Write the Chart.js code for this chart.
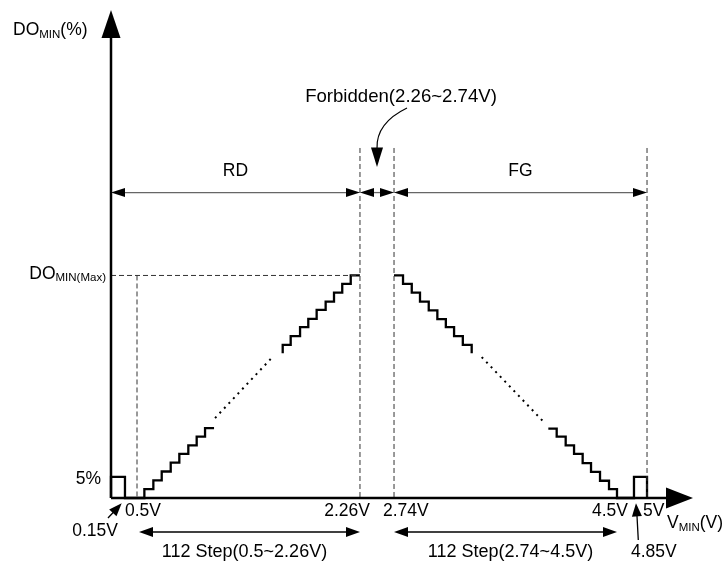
<!DOCTYPE html>
<html>
<head>
<meta charset="utf-8">
<script src="https://cdn.jsdelivr.net/npm/chart.js@4/dist/chart.umd.min.js"></script>
<style>
  html, body { margin: 0; padding: 0; background: #fff; }
  #doChart { display: block; }
</style>
</head>
<body>
<canvas id="doChart" width="724" height="562"></canvas>
<script>
// Minimum duty (DO_MIN) against V_MIN: RD and FG staircases

var doMax = 52.9;   // DO_MIN(Max), in %
var doLow = 5;      // 5% pulse level

// x tick values and labels
var tickVolts = [0.5, 2.26, 2.74, 4.5, 5];
var tickLabels = ['0.5V', '2.26V', '2.74V', '4.5V', '5V'];

// RD side: 0.15V pulse, then the first steps above 0.5V
var rdLowV  = [0, 0, 0.15, 0.558, 0.629, 0.695, 0.766, 0.834, 0.905, 0.971, 1.037, 1.108];
var rdLowDO = [0, doLow, 0, 2.1, 4.2, 6.3, 8.4, 10.5, 12.5, 14.6, 16.6, 16.6];
// RD side: last steps up to 2.26V
var rdHighV  = [1.650, 1.650, 1.713, 1.787, 1.852, 1.918, 1.989, 2.055, 2.120, 2.187, 2.26];
var rdHighDO = [34.4, 36.4, 38.5, 40.6, 42.6, 44.7, 46.7, 48.8, 50.9, doMax, doMax];
var rdDotsV  = [1.116, 1.563];
var rdDotsDO = [19.0, 33.3];

// FG side: first steps down from 2.74V
var fgHighV  = [2.74, 2.811, 2.880, 2.945, 3.014, 3.082, 3.149, 3.214, 3.283, 3.353];
var fgHighDO = [doMax, 50.9, 48.8, 46.7, 44.6, 42.5, 40.6, 38.5, 36.4, 34.4];
// FG side: last steps down to 4.5V, then the 4.85V pulse
var fgLowV  = [3.958, 4.024, 4.095, 4.161, 4.229, 4.295, 4.366, 4.437, 4.5, 4.85, 5];
var fgLowDO = [16.5, 14.6, 12.5, 10.5, 8.3, 6.2, 4.1, 2.1, 0, doLow, 0];
var fgDotsV  = [3.432, 3.924];
var fgDotsDO = [33.5, 18.0];

var FONT = '"Liberation Sans", Arial, sans-serif';

// x axis is drawn piecewise: each volt range gets its own share of the width
var axisVolts = [0, 0.15, 0.5, 2.26, 2.74, 4.5, 4.85, 5, 5.35];
var axisShare = [0, 0.024, 0.0447, 0.4278, 0.4863, 0.8694, 0.8986, 0.921, 1];

class SegmentScale extends Chart.LinearScale {
  getPixelForValue(v) {
    var d = axisShare[axisShare.length - 1];
    if (v <= axisVolts[0]) d = axisShare[0];
    else {
      for (var i = 1; i < axisVolts.length; i++) {
        if (v <= axisVolts[i]) {
          var t = (v - axisVolts[i - 1]) / (axisVolts[i] - axisVolts[i - 1]);
          d = axisShare[i - 1] + t * (axisShare[i] - axisShare[i - 1]);
          break;
        }
      }
    }
    return this.getPixelForDecimal(d);
  }
  getValueForPixel(p) {
    var d = this.getDecimalForPixel(p);
    for (var i = 1; i < axisShare.length; i++) {
      if (d <= axisShare[i]) {
        var t = (d - axisShare[i - 1]) / (axisShare[i] - axisShare[i - 1]);
        return axisVolts[i - 1] + t * (axisVolts[i] - axisVolts[i - 1]);
      }
    }
    return axisVolts[axisVolts.length - 1];
  }
}
SegmentScale.id = 'segment';
SegmentScale.defaults = Chart.LinearScale.defaults;
Chart.register(SegmentScale);

function pts(xs, ys) {
  return xs.map(function (x, i) { return { x: x, y: ys[i] }; });
}

function stairs(xs, ys) {
  return { data: pts(xs, ys), stepped: 'before', borderColor: '#000', borderWidth: 2.3,
           borderJoinStyle: 'miter', clip: false };
}
function dots(xs, ys) {
  return { data: pts(xs, ys), borderColor: '#000', borderWidth: 2, borderDash: [2, 4.6], clip: false };
}
var guideTop = 83.2;
function guide(xs, ys) {
  return { data: pts(xs, ys), borderColor: '#333', borderWidth: 1, borderDash: [5, 3], clip: false };
}

function head(ctx, tx, ty, dx, dy, len, half) {
  var bx = tx - dx * len, by = ty - dy * len;
  ctx.beginPath();
  ctx.moveTo(tx, ty);
  ctx.lineTo(bx - dy * half, by + dx * half);
  ctx.lineTo(bx + dy * half, by - dx * half);
  ctx.closePath();
  ctx.fill();
}

// horizontal span with outward arrowheads at both ends
function span(ctx, x1, x2, y, color, width, len, half) {
  ctx.strokeStyle = color;
  ctx.lineWidth = width;
  ctx.beginPath();
  ctx.moveTo(x1 + len - 1, y);
  ctx.lineTo(x2 - len + 1, y);
  ctx.stroke();
  head(ctx, x1, y, -1, 0, len, half);
  head(ctx, x2, y, 1, 0, len, half);
}

function rich(ctx, parts, x, y, align) {
  var w = 0;
  parts.forEach(function (p) { ctx.font = p[1] + 'px ' + FONT; w += ctx.measureText(p[0]).width; });
  var cx = align === 'right' ? x - w : (align === 'center' ? x - w / 2 : x);
  ctx.textAlign = 'left';
  parts.forEach(function (p) {
    ctx.font = p[1] + 'px ' + FONT;
    ctx.fillText(p[0], cx, y + p[2]);
    cx += ctx.measureText(p[0]).width;
  });
}

var diagram = {
  id: 'diagram',
  afterDatasetsDraw: function (chart) {
    var ctx = chart.ctx, a = chart.chartArea;
    var xs = chart.scales.x, ys = chart.scales.y;
    var px = function (v) { return xs.getPixelForValue(v); };
    var py = function (v) { return ys.getPixelForValue(v); };
    ctx.save();
    ctx.fillStyle = '#000';
    ctx.textBaseline = 'alphabetic';

    // axes with arrowheads
    ctx.strokeStyle = '#000';
    ctx.lineWidth = 2.5;
    ctx.beginPath();
    ctx.moveTo(a.left, a.bottom);
    ctx.lineTo(a.left, a.top + 20);
    ctx.moveTo(a.left, a.bottom);
    ctx.lineTo(a.right - 20, a.bottom);
    ctx.stroke();
    head(ctx, a.left, a.top, 0, -1, 28, 9.5);
    head(ctx, a.right, a.bottom, 1, 0, 27, 10.5);

    // RD / forbidden / FG spans
    var dimY = py(72.6);
    span(ctx, px(0), px(2.26), dimY, '#666', 1.3, 14, 4.5);
    span(ctx, px(2.26), px(2.74), dimY, '#666', 1.3, 14, 4.5);
    span(ctx, px(2.74), px(5), dimY, '#666', 1.3, 14, 4.5);
    ctx.font = '17.5px ' + FONT;
    ctx.textAlign = 'center';
    ctx.fillText('RD', (px(0) + px(2.26)) / 2, dimY - 17);
    ctx.fillText('FG', (px(2.74) + px(5)) / 2, dimY - 17);

    // callout for the forbidden band
    var fx = (px(2.26) + px(2.74)) / 2;
    ctx.strokeStyle = '#000';
    ctx.lineWidth = 1.2;
    ctx.beginPath();
    ctx.moveTo(fx + 30, dimY - 84.5);
    ctx.quadraticCurveTo(fx - 1, dimY - 69.5, fx, dimY - 44);
    ctx.stroke();
    head(ctx, fx, dimY - 25.5, 0, 1, 19.5, 6);
    ctx.font = '18.6px ' + FONT;
    ctx.textAlign = 'center';
    ctx.fillText('Forbidden(2.26~2.74V)', fx + 24, dimY - 91);

    // axis titles
    rich(ctx, [['DO', 17.5, 0], ['MIN', 11.5, 2.5], ['(%)', 17.5, 0]], 13, 35, 'left');
    rich(ctx, [['V', 17.5, 0], ['MIN', 11.5, 2.5], ['(V)', 17.5, 0]], a.right - 26, a.bottom + 30, 'left');

    // y labels
    rich(ctx, [['DO', 17.5, 0], ['MIN(Max)', 11.5, 2.5]], a.left - 5, py(doMax) + 3.5, 'right');
    ctx.font = '17.5px ' + FONT;
    ctx.textAlign = 'right';
    ctx.fillText(doLow + '%', a.left - 10, py(doLow) + 7.3);

    // x labels
    var tickAlign = ['left', 'right', 'left', 'right', 'left'];
    var tickShift = [-12, 10, -11, 11, -4];
    tickVolts.forEach(function (v, i) {
      ctx.textAlign = tickAlign[i];
      ctx.fillText(tickLabels[i], px(v) + tickShift[i], a.bottom + 18);
    });

    // 0.15V and 4.85V pointers
    var p1 = px(0.15), p2 = px(4.85);
    ctx.lineWidth = 1.3;
    ctx.beginPath();
    ctx.moveTo(p1 - 17, a.bottom + 20);
    ctx.lineTo(p1 - 8, a.bottom + 10.5);
    ctx.moveTo(p2 + 4.3, a.bottom + 42);
    ctx.lineTo(p2 + 2.8, a.bottom + 14);
    ctx.stroke();
    head(ctx, p1 - 3.3, a.bottom + 5.3, 0.68, -0.73, 13, 5);
    head(ctx, p2 + 2, a.bottom + 5.3, -0.07, -1, 13, 5);
    ctx.textAlign = 'right';
    ctx.fillText('0.15V', p1 - 7, a.bottom + 38);
    ctx.textAlign = 'left';
    ctx.fillText('4.85V', p2 - 3, a.bottom + 58.7);

    // 112-step spans
    var sy = a.bottom + 34;
    span(ctx, px(0.5) + 2, px(2.26), sy, '#000', 1.5, 14, 5);
    span(ctx, px(2.74), px(4.5), sy, '#000', 1.5, 14, 5);
    ctx.font = '18px ' + FONT;
    ctx.textAlign = 'center';
    ctx.fillText('112 Step(0.5~2.26V)', (px(0.5) + px(2.26)) / 2 - 4, a.bottom + 58.7);
    ctx.fillText('112 Step(2.74~4.5V)', (px(2.74) + px(4.5)) / 2 + 5, a.bottom + 58.7);

    ctx.restore();
  }
};

var ctx = document.getElementById('doChart');

var doChart = new Chart(ctx, {
  type: 'line',
  data: {
    datasets: [
      guide([0.5, 0.5], [doMax, 0]),
      guide([0, 2.26], [doMax, doMax]),
      guide([2.26, 2.26], [guideTop, 0]),
      guide([2.74, 2.74], [guideTop, 0]),
      guide([5, 5], [guideTop, 0]),
      stairs(rdLowV, rdLowDO),
      dots(rdDotsV, rdDotsDO),
      stairs(rdHighV, rdHighDO),
      stairs(fgHighV, fgHighDO),
      dots(fgDotsV, fgDotsDO),
      stairs(fgLowV, fgLowDO)
    ]
  },
  options: {
    responsive: false,
    animation: false,
    events: [],
    layout: { padding: { left: 111, right: 31, top: 10, bottom: 64 } },
    elements: { point: { radius: 0 }, line: { tension: 0 } },
    plugins: { legend: { display: false }, tooltip: { enabled: false } },
    scales: {
      x: { type: 'segment', min: 0, max: 5.35, display: false },
      y: { type: 'linear', min: 0, max: 116, display: false }
    }
  },
  plugins: [diagram]
});
</script>
</body>
</html>
